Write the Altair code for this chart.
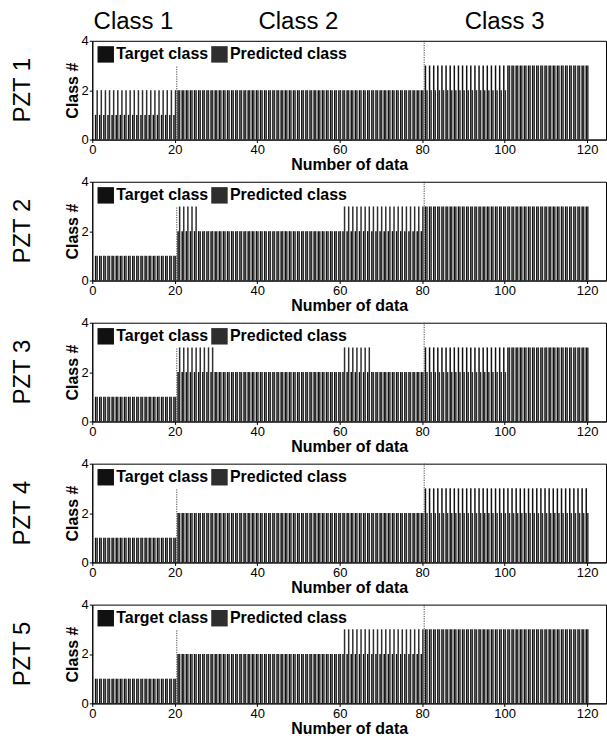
import altair as alt
import pandas as pd

# Sample numbers along the x axis
sample_no = list(range(1, 121))

# True class of every sample (20 of class 1, 60 of class 2, 40 of class 3)
target_class = [
    1, 1, 1, 1, 1, 1, 1, 1, 1, 1, 1, 1, 1, 1, 1, 1, 1, 1, 1, 1,
    2, 2, 2, 2, 2, 2, 2, 2, 2, 2, 2, 2, 2, 2, 2, 2, 2, 2, 2, 2,
    2, 2, 2, 2, 2, 2, 2, 2, 2, 2, 2, 2, 2, 2, 2, 2, 2, 2, 2, 2,
    2, 2, 2, 2, 2, 2, 2, 2, 2, 2, 2, 2, 2, 2, 2, 2, 2, 2, 2, 2,
    3, 3, 3, 3, 3, 3, 3, 3, 3, 3, 3, 3, 3, 3, 3, 3, 3, 3, 3, 3,
    3, 3, 3, 3, 3, 3, 3, 3, 3, 3, 3, 3, 3, 3, 3, 3, 3, 3, 3, 3,
]

# Predicted class per sample, one list per sensor
pred_pzt1 = [
    2, 2, 2, 2, 2, 2, 2, 2, 2, 2, 2, 2, 2, 2, 2, 2, 2, 2, 2, 2,
    2, 2, 2, 2, 2, 2, 2, 2, 2, 2, 2, 2, 2, 2, 2, 2, 2, 2, 2, 2,
    2, 2, 2, 2, 2, 2, 2, 2, 2, 2, 2, 2, 2, 2, 2, 2, 2, 2, 2, 2,
    2, 2, 2, 2, 2, 2, 2, 2, 2, 2, 2, 2, 2, 2, 2, 2, 2, 2, 2, 2,
    2, 2, 2, 2, 2, 2, 2, 2, 2, 2, 2, 2, 2, 2, 2, 2, 2, 2, 2, 2,
    3, 3, 3, 3, 3, 3, 3, 3, 3, 3, 3, 3, 3, 3, 3, 3, 3, 3, 3, 3,
]
pred_pzt2 = [
    1, 1, 1, 1, 1, 1, 1, 1, 1, 1, 1, 1, 1, 1, 1, 1, 1, 1, 1, 1,
    3, 3, 3, 3, 3, 2, 2, 2, 2, 2, 2, 2, 2, 2, 2, 2, 2, 2, 2, 2,
    2, 2, 2, 2, 2, 2, 2, 2, 2, 2, 2, 2, 2, 2, 2, 2, 2, 2, 2, 2,
    3, 3, 3, 3, 3, 3, 3, 3, 3, 3, 3, 3, 3, 3, 3, 3, 3, 3, 3, 3,
    3, 3, 3, 3, 3, 3, 3, 3, 3, 3, 3, 3, 3, 3, 3, 3, 3, 3, 3, 3,
    3, 3, 3, 3, 3, 3, 3, 3, 3, 3, 3, 3, 3, 3, 3, 3, 3, 3, 3, 3,
]
pred_pzt3 = [
    1, 1, 1, 1, 1, 1, 1, 1, 1, 1, 1, 1, 1, 1, 1, 1, 1, 1, 1, 1,
    3, 3, 3, 3, 3, 3, 3, 3, 3, 2, 2, 2, 2, 2, 2, 2, 2, 2, 2, 2,
    2, 2, 2, 2, 2, 2, 2, 2, 2, 2, 2, 2, 2, 2, 2, 2, 2, 2, 2, 2,
    3, 3, 3, 3, 3, 3, 3, 2, 2, 2, 2, 2, 2, 2, 2, 2, 2, 2, 2, 2,
    2, 2, 2, 2, 2, 2, 2, 2, 2, 2, 2, 2, 2, 2, 2, 2, 2, 2, 2, 2,
    3, 3, 3, 3, 3, 3, 3, 3, 3, 3, 3, 3, 3, 3, 3, 3, 3, 3, 3, 3,
]
pred_pzt4 = [
    1, 1, 1, 1, 1, 1, 1, 1, 1, 1, 1, 1, 1, 1, 1, 1, 1, 1, 1, 1,
    2, 2, 2, 2, 2, 2, 2, 2, 2, 2, 2, 2, 2, 2, 2, 2, 2, 2, 2, 2,
    2, 2, 2, 2, 2, 2, 2, 2, 2, 2, 2, 2, 2, 2, 2, 2, 2, 2, 2, 2,
    2, 2, 2, 2, 2, 2, 2, 2, 2, 2, 2, 2, 2, 2, 2, 2, 2, 2, 2, 2,
    2, 2, 2, 2, 2, 2, 2, 2, 2, 2, 2, 2, 2, 2, 2, 2, 2, 2, 2, 2,
    2, 2, 2, 2, 2, 2, 2, 2, 2, 2, 2, 2, 2, 2, 2, 2, 2, 2, 2, 2,
]
pred_pzt5 = [
    1, 1, 1, 1, 1, 1, 1, 1, 1, 1, 1, 1, 1, 1, 1, 1, 1, 1, 1, 1,
    2, 2, 2, 2, 2, 2, 2, 2, 2, 2, 2, 2, 2, 2, 2, 2, 2, 2, 2, 2,
    2, 2, 2, 2, 2, 2, 2, 2, 2, 2, 2, 2, 2, 2, 2, 2, 2, 2, 2, 2,
    3, 3, 3, 3, 3, 3, 3, 3, 3, 3, 3, 3, 3, 3, 3, 3, 3, 3, 3, 3,
    3, 3, 3, 3, 3, 3, 3, 3, 3, 3, 3, 3, 3, 3, 3, 3, 3, 3, 3, 3,
    3, 3, 3, 3, 3, 3, 3, 3, 3, 3, 3, 3, 3, 3, 3, 3, 3, 3, 3, 3,
]

sensor_names = ["PZT 1", "PZT 2", "PZT 3", "PZT 4", "PZT 5"]
predictions = [pred_pzt1, pred_pzt2, pred_pzt3, pred_pzt4, pred_pzt5]
series_names = ["Target class", "Predicted class"]

# Class headings above the first panel, centred on each class range
class_names = ["Class 1", "Class 2", "Class 3"]
class_centres = [10, 50, 100]

# Dotted separators between the classes
boundary_x = [20.5, 80.5]
boundary_top = [3, 4]

x_ticks = [0, 20, 40, 60, 80, 100, 120]
y_ticks = [0, 2, 4]

FONT = "Liberation Sans"
W, H = 515, 99

x_scale = alt.Scale(domain=[0, 124.6], nice=False, zero=False)
y_scale = alt.Scale(domain=[0, 4], nice=False)

x_axis = alt.Axis(
    values=x_ticks, title="Number of data", titleFontSize=16, titleFontWeight="bold",
    titleColor="black", titleY=30, titleBaseline="alphabetic",
    labelFontSize=13, labelColor="black", labelPadding=1, labelFlush=False,
    tickSize=3, tickColor="black", domainColor="black", grid=False,
)
y_axis = alt.Axis(
    values=y_ticks, title="Class #", titleFontSize=16, titleFontWeight="bold",
    titleColor="black", titleX=-15, titleY=H / 2, titleAngle=270, titleAlign="center",
    titleBaseline="alphabetic", labelFontSize=13, labelColor="black", labelPadding=1,
    tickSize=3, tickColor="black", domainColor="black", grid=False,
)

boundaries = pd.DataFrame({"x": boundary_x, "top": boundary_top, "bottom": [0, 0]})


def panel(idx):
    rows = []
    for n, t, p in zip(sample_no, target_class, predictions[idx]):
        rows.append({"n": n, "series": series_names[0], "value": t})
        rows.append({"n": n, "series": series_names[1], "value": p})
    df = pd.DataFrame(rows)

    bars = alt.Chart(df).transform_calculate(
        x0="datum.n + (datum.series === 'Target class' ? -0.37 : 0.01)",
        x1="datum.n + (datum.series === 'Target class' ? -0.01 : 0.37)",
    ).mark_bar(strokeWidth=0).encode(
        x=alt.X("x0:Q", scale=x_scale, axis=x_axis),
        x2="x1:Q",
        y=alt.Y("value:Q", scale=y_scale, axis=y_axis),
        y2=alt.datum(0),
        color=alt.Color(
            "series:N",
            scale=alt.Scale(domain=series_names, range=["#111111", "#2e2e2e"]),
            legend=alt.Legend(
                title=None, orient="none", legendX=5, legendY=5, direction="horizontal",
                symbolType="square", symbolSize=272, symbolStrokeWidth=0,
                labelFontSize=16, labelFontWeight="bold", labelFont=FONT,
                labelColor="black", labelOffset=2, columnPadding=2, padding=0,
            ),
        ),
    )

    rules = alt.Chart(boundaries).mark_rule(
        color="#444444", strokeWidth=1, strokeDash=[1.2, 1.2]
    ).encode(
        x=alt.X("x:Q", scale=x_scale),
        y=alt.Y("bottom:Q", scale=y_scale),
        y2="top:Q",
    )

    sensor = alt.Chart(pd.DataFrame({"name": [sensor_names[idx]]})).mark_text(
        angle=270, fontSize=24, font=FONT, baseline="alphabetic", align="center", color="black"
    ).encode(text="name:N", x=alt.value(-62), y=alt.value(H / 2))

    layers = [bars, rules, sensor]
    if idx == 0:
        heads = alt.Chart(pd.DataFrame({"name": class_names, "x": class_centres})).mark_text(
            fontSize=24, font=FONT, baseline="alphabetic", align="center", color="black"
        ).encode(text="name:N", x=alt.X("x:Q", scale=x_scale), y=alt.value(-12))
        layers.append(heads)

    return alt.layer(*layers).properties(width=W, height=H).resolve_scale(color="independent")


chart = alt.vconcat(
    *[panel(i) for i in range(5)], spacing=42.3, bounds="flush"
).resolve_scale(color="independent").resolve_legend(color="independent").properties(
    padding={"left": 10.5, "top": 8, "right": 0, "bottom": 0}
).configure(font=FONT).configure_view(stroke="black", strokeWidth=1)

chart.save("out.html", embed_options={"renderer": "svg", "actions": False})
